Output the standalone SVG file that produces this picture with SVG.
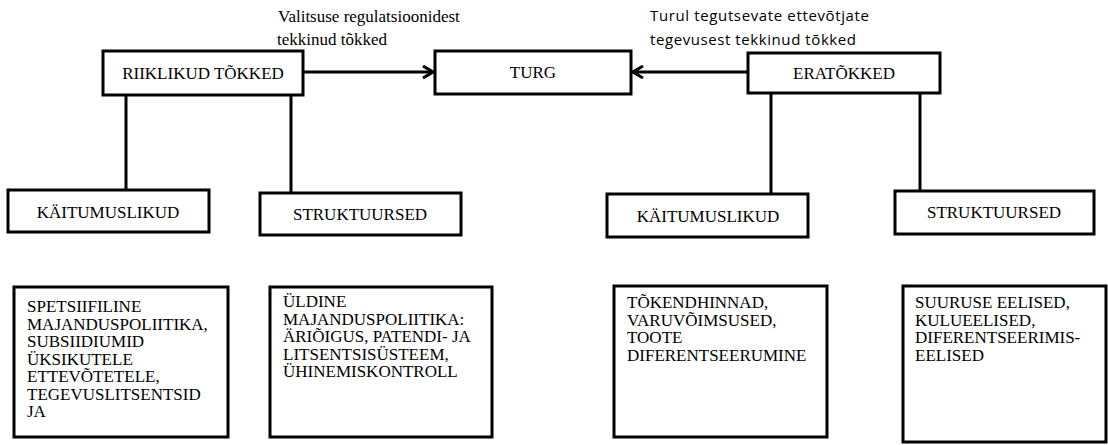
<svg xmlns="http://www.w3.org/2000/svg" width="1108" height="445" viewBox="0 0 1108 445">
  <style>
    .box { fill: #ffffff; stroke: #000000; stroke-width: 3; }
    .conn { stroke: #000000; stroke-width: 3; fill: none; }
    .t { font-family: "Liberation Serif", "Times New Roman", serif; font-size: 17px; fill: #000000; }
    .c { text-anchor: middle; }
    .lbl { font-family: "Liberation Serif", "Times New Roman", serif; font-size: 17px; fill: #000000; }
    .lbls { font-family: "Open Sans", "Liberation Sans", sans-serif; font-size: 15px; fill: #000000; }
  </style>
  <defs>
    <marker id="arr" viewBox="0 0 12 14" refX="11" refY="7" markerWidth="12" markerHeight="14" markerUnits="userSpaceOnUse" orient="auto">
      <path d="M1,1 L11,7 L1,13" fill="none" stroke="#000000" stroke-width="3"/>
    </marker>
  </defs>
  <rect width="1108" height="445" fill="#ffffff"/>

  <g id="connectors">
    <line class="conn" x1="303" y1="72" x2="433" y2="72" marker-end="url(#arr)"/>
    <line class="conn" x1="748" y1="72" x2="633" y2="72" marker-end="url(#arr)"/>
    <line class="conn" x1="126" y1="95" x2="126" y2="190"/>
    <line class="conn" x1="291" y1="95" x2="291" y2="193"/>
    <line class="conn" x1="771" y1="93" x2="771" y2="194"/>
    <line class="conn" x1="920" y1="93" x2="920" y2="191"/>
  </g>

  <g id="label-left">
    <text class="lbl" x="278" y="22">Valitsuse regulatsioonidest</text>
    <text class="lbl" x="277" y="45">tekkinud tõkked</text>
  </g>
  <g id="label-right">
    <text class="lbls" x="650" y="21" textLength="219">Turul tegutsevate ettevõtjate</text>
    <text class="lbls" x="650" y="45" textLength="206">tegevusest tekkinud tõkked</text>
  </g>

  <g id="riiklikud">
    <rect class="box" x="103" y="51" width="200" height="44"/>
    <text class="t c" x="203" y="79">RIIKLIKUD TÕKKED</text>
  </g>
  <g id="turg">
    <rect class="box" x="435" y="51" width="196" height="43"/>
    <text class="t c" x="533" y="78">TURG</text>
  </g>
  <g id="eratokked">
    <rect class="box" x="748" y="53" width="192" height="40"/>
    <text class="t c" x="844" y="79">ERATÕKKED</text>
  </g>

  <g id="kaitumuslikud-1">
    <rect class="box" x="8" y="190" width="201" height="42"/>
    <text class="t c" x="108" y="218">KÄITUMUSLIKUD</text>
  </g>
  <g id="struktuursed-1">
    <rect class="box" x="260" y="193" width="201" height="42"/>
    <text class="t c" x="360" y="220">STRUKTUURSED</text>
  </g>
  <g id="kaitumuslikud-2">
    <rect class="box" x="607" y="194" width="201" height="43"/>
    <text class="t c" x="708" y="222">KÄITUMUSLIKUD</text>
  </g>
  <g id="struktuursed-2">
    <rect class="box" x="895" y="191" width="199" height="43"/>
    <text class="t c" x="994" y="218">STRUKTUURSED</text>
  </g>

  <g id="detail-1">
    <rect class="box" x="14" y="287" width="214" height="150"/>
    <text class="t" x="27" y="312">
      <tspan x="27" y="312">SPETSIIFILINE</tspan>
      <tspan x="27" y="329.5">MAJANDUSPOLIITIKA,</tspan>
      <tspan x="27" y="347">SUBSIIDIUMID</tspan>
      <tspan x="27" y="364.5">ÜKSIKUTELE</tspan>
      <tspan x="27" y="382">ETTEVÕTETELE,</tspan>
      <tspan x="27" y="399.5">TEGEVUSLITSENTSID</tspan>
      <tspan x="27" y="417">JA</tspan>
    </text>
  </g>
  <g id="detail-2">
    <rect class="box" x="270" y="287" width="222" height="150"/>
    <text class="t" x="283" y="307">
      <tspan x="283" y="307">ÜLDINE</tspan>
      <tspan x="283" y="324.5">MAJANDUSPOLIITIKA:</tspan>
      <tspan x="283" y="342">ÄRIÕIGUS, PATENDI- JA</tspan>
      <tspan x="283" y="359.5">LITSENTSISÜSTEEM,</tspan>
      <tspan x="283" y="377">ÜHINEMISKONTROLL</tspan>
    </text>
  </g>
  <g id="detail-3">
    <rect class="box" x="614" y="286" width="213" height="151"/>
    <text class="t" x="627" y="308">
      <tspan x="627" y="308">TÕKENDHINNAD,</tspan>
      <tspan x="627" y="325.5">VARUVÕIMSUSED,</tspan>
      <tspan x="627" y="343">TOOTE</tspan>
      <tspan x="627" y="360.5">DIFERENTSEERUMINE</tspan>
    </text>
  </g>
  <g id="detail-4">
    <rect class="box" x="903" y="286" width="203" height="156"/>
    <text class="t" x="915" y="308">
      <tspan x="915" y="308">SUURUSE EELISED,</tspan>
      <tspan x="915" y="325.5">KULUEELISED,</tspan>
      <tspan x="915" y="343">DIFERENTSEERIMIS-</tspan>
      <tspan x="915" y="360.5">EELISED</tspan>
    </text>
  </g>
</svg>
